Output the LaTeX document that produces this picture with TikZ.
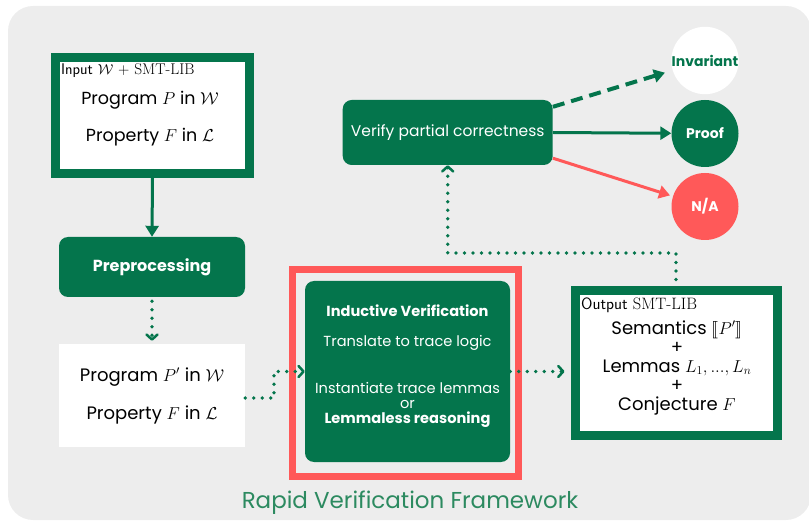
\documentclass[tikz,border=0pt]{standalone}
\usepackage{fontspec}
\usepackage{amsmath, amssymb}
\usepackage{stmaryrd}
\usetikzlibrary{arrows.meta, positioning, calc}
\newfontfamily\uifont{Poppins}
\definecolor{rvgreen}{RGB}{4,117,76}
\definecolor{rvred}{RGB}{255,89,89}
\definecolor{rvgray}{RGB}{237,237,237}
\definecolor{rvtitle}{RGB}{44,138,96}

\begin{document}
\begin{tikzpicture}[
        x=1pt, y=-1pt, font=\uifont,
        greenbox/.style={fill=rvgreen, text=white, rounded corners=9pt, align=center, inner sep=0pt},
        framed/.style={draw=rvgreen, line width=9pt, fill=white, inner sep=0pt},
        result/.style={circle, minimum size=67pt, inner sep=0pt, font=\uifont\bfseries\fontsize{14}{16}\selectfont},
        arr/.style={-{Triangle[length=11pt,width=13pt]}, line width=3pt, rvgreen},
        dotarr/.style={-{Straight Barb[round,length=5pt,width=11pt,line width=2.5pt]}, line width=3.8pt, rvgreen,
            dash pattern=on 0pt off 8.5pt, line cap=round}
    ]
    \useasboundingbox (0,0) rectangle (809,521);
    \fill[rvgray, rounded corners=25pt] (8,6) rectangle (811,520);

    % input program and property
    \node[framed, minimum width=194pt, minimum height=116pt] (inp) at (152.5,115.5) {};
    \node[anchor=west, inner sep=0pt, font=\fontsize{15.5}{17}\selectfont] (inplabel) at (61,71)
        {\sffamily Input $\mathcal{W}$ + \textrm{SMT-LIB}};
    \node[align=center, font=\uifont\fontsize{17.5}{37}\selectfont] (inptext) at (150,118.5)
        {Program $P$ in $\mathcal{W}$\\Property $F$ in $\mathcal{L}$};

    \node[greenbox, minimum width=186pt, minimum height=60pt, font=\uifont\bfseries\fontsize{16}{18}\selectfont]
        (prep) at (152,267) {Preprocessing};

    \node[fill=white, minimum width=186pt, minimum height=103pt, align=center,
        font=\uifont\fontsize{18}{38}\selectfont] (pprime) at (152,395.5)
        {Program $P'$ in $\mathcal{W}$\\Property $F$ in $\mathcal{L}$};

    % inductive verification inside the red frame
    \node[draw=rvred, line width=7pt, minimum width=226pt, minimum height=207pt, inner sep=0pt] (frame) at (405.5,373) {};
    \node[greenbox, minimum width=205pt, minimum height=181pt] (ind) at (407.5,371.5) {};
    \node[align=center, text=white, font=\uifont\fontsize{14.6}{15}\selectfont] (indtext) at (407.5,366)
        {{\bfseries Inductive Verification}\\[15pt]
         Translate to trace logic\\[31pt]
         Instantiate trace lemmas\\or\\{\bfseries Lemmaless reasoning}};

    % output
    \node[framed, minimum width=202pt, minimum height=144pt] (out) at (676,363) {};
    \node[anchor=west, inner sep=0pt, font=\fontsize{16.5}{18}\selectfont] (outlabel) at (581,305)
        {\sffamily Output \textrm{SMT-LIB}};
    \node[align=center, font=\uifont\fontsize{18}{19}\selectfont] (outtext) at (677,367.5)
        {Semantics $\llbracket P'\rrbracket$\\+\\Lemmas $L_1, ..., L_n$\\+\\Conjecture $F$};

    \node[greenbox, minimum width=210pt, minimum height=65pt, font=\uifont\fontsize{15.5}{19}\selectfont]
        (verify) at (447.7,132.5) {Verify partial correctness};

    % results
    \node[result, fill=white, text=rvgreen] (inv) at (705,60.5) {Invariant};
    \node[result, fill=rvgreen, text=white] (proof) at (705,133.5) {Proof};
    \node[result, fill=rvred, text=white] (na) at (705,206.5) {N/A};

    \node[text=rvtitle, font=\uifont\fontsize{23}{26}\selectfont] (title) at (410,503) {Rapid Verification Framework};

    % connectors
    \coordinate (bend) at (274,398);
    \coordinate (back) at (676,253);
    \draw[arr] (inp.south) -- (prep.north);
    \draw[dotarr, shorten <=4pt, shorten >=3pt] (prep.south) -- (pprime.north);
    \draw[dotarr] (pprime.east |- bend) -- (bend) |- (ind.west);
    \draw[dotarr, shorten >=6pt] (ind.east) -- (ind.east -| out.west);
    \draw[dotarr, shorten <=7pt] (out.north) -- (back) -| (verify.south);
    \draw[arr, line width=4pt, dash pattern=on 12pt off 7pt, shorten >=8pt] ([yshift=-7pt]verify.north east) -- (inv);
    \draw[arr] (verify.east) -- (proof);
    \draw[arr, rvred, shorten >=3pt] ([yshift=7pt]verify.south east) -- (na);
\end{tikzpicture}
\end{document}
